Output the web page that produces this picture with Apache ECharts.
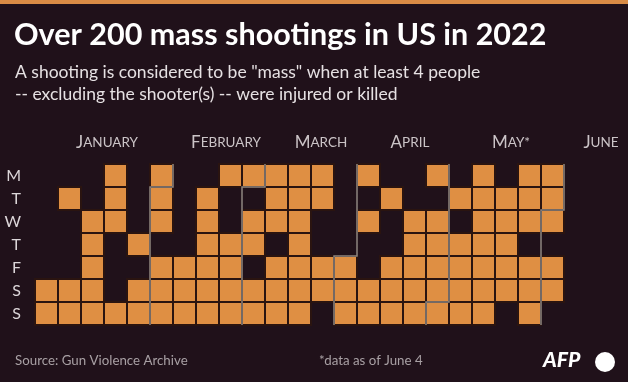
<!DOCTYPE html>
<html>
<head>
<meta charset="utf-8">
<script src="https://cdn.jsdelivr.net/npm/echarts@6/dist/echarts.min.js"></script>
<style>
html,body{margin:0;padding:0;background:#20111a;}
#chart{width:628px;height:382px;}
</style>
</head>
<body>
<div id="chart"></div>
<script>
// ---- data ----
const titleText = 'Over 200 mass shootings in US in 2022';
const subtitleLines = ['A shooting is considered to be "mass" when at least 4 people', '-- excluding the shooter(s) -- were injured or killed'];
const sourceText = 'Source: Gun Violence Archive';
const noteText = '*data as of June 4';
const dayNames = ['M', 'T', 'W', 'T', 'F', 'S', 'S'];
const monthNames = ['January', 'February', 'March', 'April', 'May*', 'June'];
const calendarRange = ['2022-01-01', '2022-06-05'];
const monthStarts = ['2022-02-01', '2022-03-01', '2022-04-01', '2022-05-01', '2022-06-01'];
const shootingDates = [
  '2022-01-01','2022-01-02','2022-01-04','2022-01-08','2022-01-09',
  '2022-01-12','2022-01-13','2022-01-14','2022-01-15','2022-01-16',
  '2022-01-17','2022-01-18','2022-01-19','2022-01-23',
  '2022-01-27','2022-01-29','2022-01-30',
  '2022-01-31','2022-02-01','2022-02-02','2022-02-04','2022-02-05','2022-02-06',
  '2022-02-11','2022-02-12','2022-02-13',
  '2022-02-15','2022-02-16','2022-02-17','2022-02-18','2022-02-19','2022-02-20',
  '2022-02-21','2022-02-24','2022-02-25','2022-02-26','2022-02-27',
  '2022-02-28','2022-03-02','2022-03-03','2022-03-05','2022-03-06',
  '2022-03-07','2022-03-08','2022-03-09','2022-03-11','2022-03-12','2022-03-13',
  '2022-03-14','2022-03-15','2022-03-16','2022-03-17','2022-03-18','2022-03-19','2022-03-20',
  '2022-03-21','2022-03-22','2022-03-25','2022-03-26',
  '2022-04-01','2022-04-02','2022-04-03',
  '2022-04-04','2022-04-06','2022-04-09','2022-04-10',
  '2022-04-12','2022-04-15','2022-04-16','2022-04-17',
  '2022-04-20','2022-04-21','2022-04-22','2022-04-23','2022-04-24',
  '2022-04-25','2022-04-27','2022-04-28','2022-04-29','2022-04-30','2022-05-01',
  '2022-05-03','2022-05-05','2022-05-06','2022-05-07','2022-05-08',
  '2022-05-09','2022-05-10','2022-05-11','2022-05-12','2022-05-13','2022-05-14','2022-05-15',
  '2022-05-17','2022-05-18','2022-05-19','2022-05-20','2022-05-21',
  '2022-05-23','2022-05-24','2022-05-25','2022-05-27','2022-05-28','2022-05-29',
  '2022-05-30','2022-05-31','2022-06-01','2022-06-03','2022-06-04'
];

// ---- style ----
const BG = '#20111a';
const ORANGE = '#df8f43';
const FONT = 'Lato';
const monthLabelX = [107, 226, 321, 410, 511, 601];

const chart = echarts.init(document.getElementById('chart'), null, {renderer: 'canvas'});

function smallCaps(name) {
  return '{a|' + name.charAt(0).toUpperCase() + '}{b|' + name.slice(1).toUpperCase() + '}';
}

const graphics = [
  {type: 'rect', left: 0, top: 0, shape: {width: 628, height: 4}, style: {fill: '#d98b45'}},
  {type: 'text', left: 14, top: 20, style: {text: titleText, fill: '#ffffff', font: 'bold 30.5px ' + FONT}},
  {type: 'text', left: 15, top: 63, style: {text: subtitleLines[0], fill: '#e6e1e3', font: '17.5px ' + FONT}},
  {type: 'text', left: 15, top: 85, style: {text: subtitleLines[1], fill: '#e6e1e3', font: '17.5px ' + FONT}},
  {type: 'text', left: 15, top: 354, style: {text: sourceText, fill: '#a8a0a4', font: '13.3px ' + FONT}},
  {type: 'text', left: 319, top: 354, style: {text: noteText, fill: '#a8a0a4', font: '13.3px ' + FONT}},
  {type: 'text', left: 543, top: 350, style: {text: 'AFP', fill: '#ffffff', font: 'italic 900 21px ' + FONT}},
  {type: 'circle', shape: {cx: 605, cy: 362, r: 10}, style: {fill: '#ffffff'}}
];
monthNames.forEach(function (m, i) {
  graphics.push({
    type: 'text', x: monthLabelX[i], y: 143,
    style: {
      text: smallCaps(m), align: 'center', verticalAlign: 'middle',
      rich: {
        a: {fontSize: 17, fill: '#cbc4c7', fontFamily: FONT},
        b: {fontSize: 13.5, fill: '#cbc4c7', fontFamily: FONT}
      }
    }
  });
});

const option = {
  backgroundColor: BG,
  animation: false,
  calendar: {
    left: 35, top: 164,
    cellSize: [23, 23],
    range: calendarRange,
    orient: 'horizontal',
    splitLine: {show: false},
    itemStyle: {color: BG, borderColor: BG, borderWidth: 0},
    dayLabel: {
      firstDay: 1,
      nameMap: [dayNames[6]].concat(dayNames.slice(0, 6)),
      position: 'start', align: 'center', margin: 14,
      color: '#dcd6d9', fontSize: 16, fontFamily: FONT
    },
    monthLabel: {show: false},
    yearLabel: {show: false}
  },
  graphic: graphics,
  series: [
    {
      type: 'heatmap',
      coordinateSystem: 'calendar',
      data: shootingDates.map(function (d) { return [d, 1]; }),
      itemStyle: {color: ORANGE, borderColor: '#2a1410', borderWidth: 2},
      emphasis: {disabled: true}
    },
    {
      type: 'custom',
      coordinateSystem: 'calendar',
      data: monthStarts.map(function (d) { return [d, 0]; }),
      z: 5,
      renderItem: function (params, api) {
        const t = api.value(0);
        const c = api.coord([t]);
        const cw = params.coordSys.cellWidth;
        const ch = params.coordSys.cellHeight;
        const k = (new Date(t).getDay() + 6) % 7;
        const xl = c[0] - cw / 2, xr = c[0] + cw / 2, yt = c[1] - ch / 2;
        const top = yt - k * ch, bottom = yt + (7 - k) * ch;
        const pts = k === 0 ? [[xl, bottom], [xl, top]] : [[xl, bottom], [xl, yt], [xr, yt], [xr, top]];
        return {type: 'polyline', shape: {points: pts}, style: {stroke: '#8d8580', lineWidth: 1.5, fill: null}};
      }
    }
  ]
};
chart.setOption(option);
</script>
</body>
</html>
